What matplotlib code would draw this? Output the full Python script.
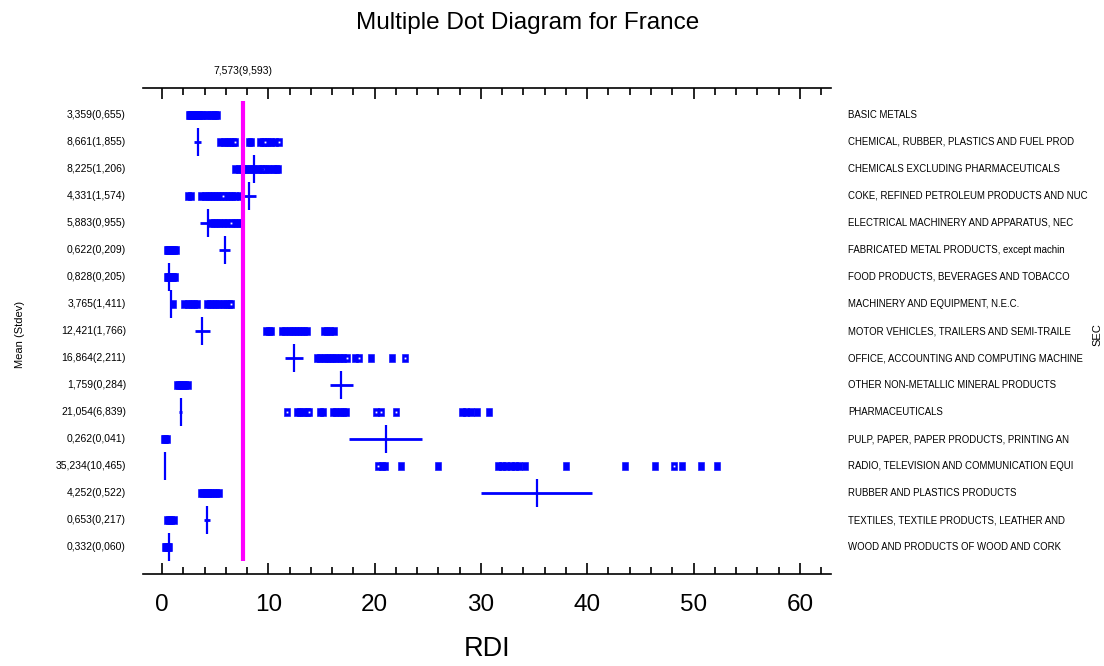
import matplotlib
matplotlib.use("Agg")
import matplotlib.pyplot as plt
from matplotlib import transforms
import numpy as np

plt.rcParams['font.family'] = ['Liberation Sans', 'DejaVu Sans']

sectors = [
    "BASIC METALS",
    "CHEMICAL, RUBBER, PLASTICS AND FUEL PROD",
    "CHEMICALS EXCLUDING PHARMACEUTICALS",
    "COKE, REFINED PETROLEUM PRODUCTS AND NUC",
    "ELECTRICAL MACHINERY AND APPARATUS, NEC",
    "FABRICATED METAL PRODUCTS, except machin",
    "FOOD PRODUCTS, BEVERAGES AND TOBACCO",
    "MACHINERY AND EQUIPMENT, N.E.C.",
    "MOTOR VEHICLES, TRAILERS AND SEMI-TRAILE",
    "OFFICE, ACCOUNTING AND COMPUTING MACHINE",
    "OTHER NON-METALLIC MINERAL PRODUCTS",
    "PHARMACEUTICALS",
    "PULP, PAPER, PAPER PRODUCTS, PRINTING AN",
    "RADIO, TELEVISION AND COMMUNICATION EQUI",
    "RUBBER AND PLASTICS PRODUCTS",
    "TEXTILES, TEXTILE PRODUCTS, LEATHER AND",
    "WOOD AND PRODUCTS OF WOOD AND CORK",
]

means = [3.359, 8.661, 8.225, 4.331, 5.883, 0.622, 0.828, 3.765, 12.421,
         16.864, 1.759, 21.054, 0.262, 35.234, 4.252, 0.653, 0.332]
stdevs = [0.655, 1.855, 1.206, 1.574, 0.955, 0.209, 0.205, 1.411, 1.766,
          2.211, 0.284, 6.839, 0.041, 10.465, 0.522, 0.217, 0.060]
mean_labels = ["3,359(0,655)", "8,661(1,855)", "8,225(1,206)", "4,331(1,574)",
               "5,883(0,955)", "0,622(0,209)", "0,828(0,205)", "3,765(1,411)",
               "12,421(1,766)", "16,864(2,211)", "1,759(0,284)", "21,054(6,839)",
               "0,262(0,041)", "35,234(10,465)", "4,252(0,522)", "0,653(0,217)",
               "0,332(0,060)"]

overall_mean = 7.573
overall_label = "7,573(9,593)"

# RDI observations per sector (read from the dot rows)
basic_metals = [2.5, 2.6, 2.7, 2.8, 2.9, 3.0, 3.1, 3.2, 3.3, 3.4, 3.5, 3.7,
                3.9, 4.2, 4.5, 4.8, 5.0, 5.2]
chem_rubber = [5.5, 5.8, 6.1, 6.4, 6.7, 6.9, 8.2, 8.4, 9.2, 9.5, 9.7, 10.0,
               10.3, 10.6, 11.0]
chem_excl = [6.9, 7.2, 7.5, 7.8, 8.1, 8.4, 8.7, 9.0, 9.3, 9.5, 9.8, 10.1,
             10.4, 10.7, 10.9]
coke = [2.4, 2.7, 3.7, 4.0, 4.3, 4.6, 4.9, 5.2, 5.5, 5.7, 6.0, 6.3, 6.6,
        6.9, 7.3]
electrical = [4.6, 4.9, 5.2, 5.5, 5.8, 6.1, 6.5, 6.8, 7.1, 7.3]
fabricated = [0.45, 0.55, 0.65, 0.75, 0.9, 1.1, 1.3]
food = [0.45, 0.6, 0.75, 0.9, 1.05, 1.2]
machinery = [1.0, 2.1, 2.4, 2.7, 3.0, 3.3, 4.2, 4.5, 4.8, 5.1, 5.4, 5.7,
             6.0, 6.3, 6.5]
motor = [9.8, 10.1, 10.3, 11.3, 11.6, 11.9, 12.2, 12.5, 12.8, 13.1, 13.4,
         13.6, 15.2, 15.5, 15.8, 16.2]
office = [14.6, 14.9, 15.2, 15.5, 15.8, 16.1, 16.4, 16.7, 17.0, 17.4, 18.2,
          18.5, 19.7, 21.6, 22.9]
other_mineral = [1.4, 1.6, 1.8, 2.0, 2.2, 2.4]
pharma = [11.8, 12.7, 13.0, 13.3, 13.6, 13.8, 14.9, 15.1, 16.1, 16.4, 16.7,
          17.0, 17.3, 20.1, 20.6, 22.0, 28.2, 28.6, 29.1, 29.6, 30.8]
pulp = [0.2, 0.3, 0.45]
radio = [20.3, 20.7, 21.0, 22.5, 26.0, 31.6, 32.0, 32.4, 32.8, 33.2, 33.6,
         34.1, 38.0, 43.6, 46.4, 48.2, 48.9, 50.7, 52.2]
rubber = [3.7, 3.9, 4.1, 4.3, 4.5, 4.8, 5.1, 5.4]
textiles = [0.45, 0.65, 0.85, 1.1]
wood = [0.25, 0.4, 0.55, 0.65]

observations = [basic_metals, chem_rubber, chem_excl, coke, electrical,
                fabricated, food, machinery, motor, office, other_mineral,
                pharma, pulp, radio, rubber, textiles, wood]

# points drawn with a small white centre in the original
marked_points = [[], [6.9, 9.7, 11.0], [9.5], [5.7], [6.5], [], [], [6.5], [],
                 [17.4, 18.5, 22.9], [], [11.8, 13.8, 20.1, 20.6, 22.0],
                 [], [20.3, 48.2], [], [], []]

BLUE = "#0000ff"
MAGENTA = "#ff00ff"

fig = plt.figure(figsize=(11.04, 6.66), dpi=100)
ax = fig.add_axes([0.1295, 0.138, 0.6232, 0.730])

rect = [(-0.75, -1), (0.75, -1), (0.75, 1), (-0.75, 1), (-0.75, -1)]
for i, vals in enumerate(observations):
    ax.plot(vals, [i + 1] * len(vals), linestyle="none", marker=rect,
            markersize=6.2, color=BLUE, markeredgewidth=0.4)
    if marked_points[i]:
        ax.plot(marked_points[i], [i + 1] * len(marked_points[i]),
                linestyle="none", marker="s", markersize=1.3, color="white",
                markeredgewidth=0)

# mean +/- half stdev crosses (drawn one row lower, as in the original)
for i, (m, s) in enumerate(zip(means[:-1], stdevs[:-1])):
    y = i + 2
    ax.hlines(y, m - s / 2, m + s / 2, color=BLUE, linewidth=2.0)
    ax.vlines(m, y - 0.52, y + 0.52, color=BLUE, linewidth=1.6)

ax.vlines(overall_mean, 0.5, 17.5, color=MAGENTA, linewidth=3.0, zorder=3)
ax.text(overall_mean, -0.63, overall_label, ha="center", va="center",
        fontsize=7.5)

trans_l = transforms.blended_transform_factory(ax.transAxes, ax.transData)
for i, (lab, sec) in enumerate(zip(mean_labels, sectors)):
    ax.text(-0.0247, i + 1, lab, transform=trans_l, ha="right", va="center",
            fontsize=7.5)
    ax.text(1.0247, i + 1, sec, transform=trans_l, ha="left", va="center",
            fontsize=6.9)

ax.set_xlim(-1.79, 62.93)
ax.set_ylim(18, 0)
ax.set_yticks([])
ax.set_xticks(np.arange(0, 61, 10))
ax.set_xticks(np.arange(0, 63, 2), minor=True)
ax.tick_params(axis="x", which="both", direction="in", top=True, bottom=True,
               labeltop=False, width=1.2, pad=14, labelsize=17.5)
ax.tick_params(axis="x", which="major", length=8)
ax.tick_params(axis="x", which="minor", length=5)
for side in ("left", "right"):
    ax.spines[side].set_visible(False)
for side in ("top", "bottom"):
    ax.spines[side].set_linewidth(1.2)

ax.set_xlabel("RDI", fontsize=19.5, labelpad=15)
fig.text(0.478, 0.965, "Multiple Dot Diagram for France", ha="center",
         va="center", fontsize=17.5)
fig.text(0.018, 0.498, "Mean (Stdev)", rotation=90, ha="center", va="center",
         fontsize=8)
fig.text(0.9937, 0.498, "SEC", rotation=90, ha="center", va="center",
         fontsize=8)

fig.savefig("out.png", dpi=100)
